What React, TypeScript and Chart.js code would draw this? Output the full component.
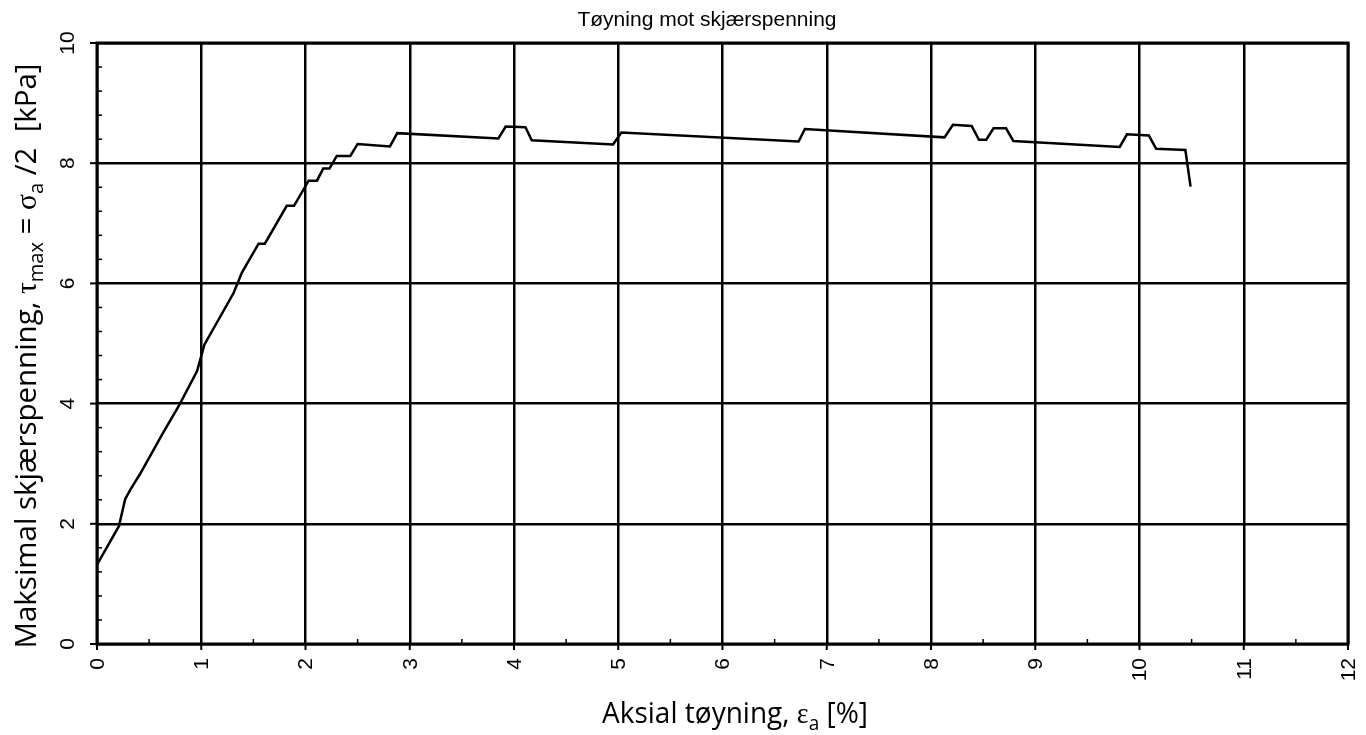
import React, { useEffect, useRef } from "react";
import { Chart, registerables } from "chart.js";

Chart.register(...registerables);

const chartTitle = "Tøyning mot skjærspenning";

const strainPct = [
  0, 0.21, 0.27, 0.32, 0.41, 0.62, 0.79, 0.96, 1.03, 1.31, 1.39, 1.55, 1.61,
  1.82, 1.89, 2.03, 2.11, 2.17, 2.23, 2.3, 2.43, 2.5, 2.81, 2.88, 3.85, 3.92,
  4.11, 4.17, 4.95, 5.03, 6.73, 6.79, 8.13, 8.21, 8.39, 8.46, 8.53, 8.6, 8.72,
  8.79, 9.81, 9.88, 10.09, 10.16, 10.44, 10.49,
];

const shearKPa = [
  1.32, 1.96, 2.41, 2.57, 2.82, 3.47, 3.98, 4.54, 4.98, 5.84, 6.18, 6.66, 6.66,
  7.29, 7.29, 7.71, 7.71, 7.91, 7.91, 8.12, 8.12, 8.32, 8.28, 8.5, 8.41, 8.61,
  8.6, 8.38, 8.31, 8.51, 8.36, 8.57, 8.43, 8.64, 8.62, 8.39, 8.39, 8.58, 8.58,
  8.37, 8.27, 8.48, 8.46, 8.24, 8.22, 7.61,
];

const xTickValues = [0, 1, 2, 3, 4, 5, 6, 7, 8, 9, 10, 11, 12];
const xTickLabels = ["0", "1", "2", "3", "4", "5", "6", "7", "8", "9", "10", "11", "12"];
const yTickValues = [0, 2, 4, 6, 8, 10];
const yTickLabels = ["0", "2", "4", "6", "8", "10"];

type Seg = { t: string; sub?: boolean; serif?: boolean };

const xTitleSegs: Seg[] = [
  { t: "Aksial tøyning, " },
  { t: "ε", serif: true },
  { t: "a", sub: true },
  { t: " [%]" },
];

const yTitleSegs: Seg[] = [
  { t: "Maksimal skjærspenning, " },
  { t: "τ", serif: true },
  { t: "max", sub: true },
  { t: " = " },
  { t: "σ", serif: true },
  { t: "a", sub: true },
  { t: " /2  [kPa]" },
];

const TITLE_FAMILY = "'Open Sans', 'Noto Sans', sans-serif";
const TITLE_SIZE = 30;
const TICK_FONT = "21px 'Liberation Sans', Arial, sans-serif";

function segFont(s: Seg, size: number) {
  const sz = s.sub ? size * 0.68 : size;
  const fam = s.serif ? "'Liberation Serif', 'DejaVu Serif', serif" : TITLE_FAMILY;
  return `${sz}px ${fam}`;
}

function measureSegs(ctx: CanvasRenderingContext2D, segs: Seg[], size: number) {
  let w = 0;
  for (const s of segs) {
    ctx.font = segFont(s, size);
    w += ctx.measureText(s.t).width;
  }
  return w;
}

function drawSegs(ctx: CanvasRenderingContext2D, segs: Seg[], size: number) {
  let x = 0;
  ctx.textAlign = "left";
  ctx.textBaseline = "alphabetic";
  for (const s of segs) {
    ctx.font = segFont(s, size);
    const dy = s.sub ? size * 0.24 : 0;
    ctx.fillText(s.t, x, dy);
    x += ctx.measureText(s.t).width;
  }
}

const decorPlugin = {
  id: "decor",
  afterDatasetsDraw(chart: any) {
    const ctx: CanvasRenderingContext2D = chart.ctx;
    const xs = chart.scales.x;
    const ys = chart.scales.y;
    const { left, right, top, bottom } = chart.chartArea;
    const line = (x1: number, y1: number, x2: number, y2: number) => {
      ctx.beginPath();
      ctx.moveTo(x1, y1);
      ctx.lineTo(x2, y2);
      ctx.stroke();
    };
    ctx.save();
    ctx.strokeStyle = "#000";
    ctx.fillStyle = "#000";

    ctx.lineWidth = 1.5;
    for (let i = 1; i < 25; i++) {
      if (i % 5 === 0) continue;
      const py = ys.getPixelForValue(i * 0.4);
      line(left, py, left + 5, py);
    }
    for (let i = 0; i < 12; i++) {
      const px = xs.getPixelForValue(i + 0.5);
      line(px, bottom, px, bottom - 5);
    }

    ctx.lineWidth = 2;
    yTickValues.forEach((v) => {
      const py = ys.getPixelForValue(v);
      line(left - 7, py, left, py);
    });
    xTickValues.forEach((v) => {
      const px = xs.getPixelForValue(v);
      line(px, bottom, px, bottom + 6);
    });

    ctx.lineWidth = 3;
    ctx.strokeRect(left, top, right - left, bottom - top);

    ctx.font = TICK_FONT;
    ctx.textBaseline = "middle";
    yTickValues.forEach((v, i) => {
      const py = ys.getPixelForValue(v);
      ctx.save();
      ctx.translate(left - 29, py);
      ctx.rotate(-Math.PI / 2);
      ctx.textAlign = "center";
      ctx.fillText(yTickLabels[i], 0, 0);
      ctx.restore();
    });
    xTickValues.forEach((v, i) => {
      const px = xs.getPixelForValue(v);
      ctx.save();
      ctx.translate(px + 1, bottom + 14);
      ctx.rotate(-Math.PI / 2);
      ctx.textAlign = "right";
      ctx.fillText(xTickLabels[i], 0, 0);
      ctx.restore();
    });

    ctx.font = "21px 'Liberation Sans', Arial, sans-serif";
    ctx.textAlign = "center";
    ctx.textBaseline = "alphabetic";
    ctx.fillText(chartTitle, 707, 26);

    {
      const w = measureSegs(ctx, xTitleSegs, TITLE_SIZE);
      const sx = 266 / w;
      ctx.save();
      ctx.translate(735 - 133, 723);
      ctx.scale(sx, 1);
      drawSegs(ctx, xTitleSegs, TITLE_SIZE);
      ctx.restore();
    }
    {
      const w = measureSegs(ctx, yTitleSegs, TITLE_SIZE);
      const sx = 585 / w;
      ctx.save();
      ctx.translate(36, 356 + 585 / 2);
      ctx.rotate(-Math.PI / 2);
      ctx.scale(sx, 1);
      drawSegs(ctx, yTitleSegs, TITLE_SIZE);
      ctx.restore();
    }
    ctx.restore();
  },
};

export default function App() {
  const canvasRef = useRef<HTMLCanvasElement | null>(null);

  useEffect(() => {
    const canvas = canvasRef.current;
    if (!canvas) return;
    const points = strainPct.map((x, i) => ({ x, y: shearKPa[i] }));
    const chart = new Chart(canvas, {
      type: "line",
      data: {
        datasets: [
          {
            label: "Skjærspenning",
            data: points,
            borderColor: "#000",
            borderWidth: 2.5,
            pointRadius: 0,
            tension: 0,
            fill: false,
          },
        ],
      },
      options: {
        animation: false,
        responsive: false,
        devicePixelRatio: 1,
        layout: { padding: { top: 43, right: 18, left: 0, bottom: 0 } },
        plugins: {
          legend: { display: false },
          title: { display: false },
          tooltip: { enabled: false },
        },
        scales: {
          x: {
            type: "linear",
            min: 0,
            max: 12,
            ticks: { stepSize: 1, display: false },
            grid: { color: "#000", lineWidth: 2.5, drawTicks: false },
            border: { display: false },
            afterFit: (s: any) => {
              s.height = 91;
            },
          },
          y: {
            type: "linear",
            min: 0,
            max: 10,
            ticks: { stepSize: 2, display: false },
            grid: { color: "#000", lineWidth: 2.5, drawTicks: false },
            border: { display: false },
            afterFit: (s: any) => {
              s.width = 97;
            },
          },
        },
      },
      plugins: [decorPlugin],
    });
    return () => chart.destroy();
  }, []);

  return (
    <div style={{ position: "absolute", left: 0, top: 0, width: 1366, height: 735, background: "#fff" }}>
      <canvas ref={canvasRef} width={1366} height={735} />
    </div>
  );
}
